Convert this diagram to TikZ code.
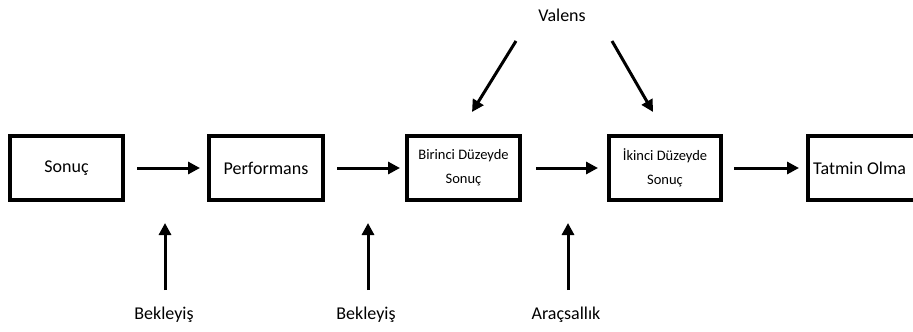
\documentclass[tikz,border=0pt]{standalone}
\usepackage{fontspec}
\setmainfont{Carlito}
\usetikzlibrary{arrows.meta}
\tikzset{
  stage/.style={draw, line width=4pt, minimum height=64pt, inner sep=0pt,
    font=\fontsize{18}{20}\selectfont},
  smallstage/.style={stage, align=center,
    font=\fontsize{14.5}{24}\selectfont},
  lbl/.style={inner sep=2pt, font=\fontsize{18}{20}\selectfont},
  flow/.style={line width=3pt, -{Triangle[length=12pt,width=12pt]}},
}
\begin{document}
\begin{tikzpicture}[x=1pt,y=-1pt]
  \useasboundingbox (0,0) rectangle (913,332);
  \clip (0,0) rectangle (913,332);

  % main chain of stages
  \node[stage, minimum width=113pt] (s1) at (66.5,168) {Sonuç};
  \node[stage, minimum width=114pt] (s2) at (266,168) {Performans};
  \node[smallstage, minimum width=113pt] (s3) at (463.5,168) {Birinci Düzeyde\\Sonuç};
  \node[smallstage, minimum width=112pt] (s4) at (665,168) {İkinci Düzeyde\\Sonuç};
  \node[stage, anchor=west, minimum width=130pt] (s5) at (806,168) {};
  \node[lbl, anchor=west, inner sep=0pt] (s5t) at ([xshift=7pt]s5.west) {Tatmin Olma};

  \draw[flow, shorten <=12pt, shorten >=7pt] (s1) -- (s2);
  \draw[flow, shorten <=12pt, shorten >=5pt] (s2) -- (s3);
  \draw[flow, shorten <=14pt, shorten >=9pt] (s3) -- (s4);
  \draw[flow, shorten <=11pt, shorten >=7pt] (s4) -- (s5.west);

  % influences from below
  \node[lbl] (b1) at (164,315) {Bekleyiş};
  \node[lbl] (b2) at (366,315) {Bekleyiş};
  \node[lbl] (ar) at (566,315) {Araçsallık};
  \coordinate (t1) at (165,223);
  \coordinate (t2) at (368,223);
  \coordinate (t3) at (568,223);
  \coordinate (f1) at (165,290);
  \coordinate (f2) at (368,290);
  \coordinate (f3) at (568,290);
  \draw[flow] (f1) -- (t1);
  \draw[flow] (f2) -- (t2);
  \draw[flow] (f3) -- (t3);

  % valence from above
  \node[lbl] (va) at (562,15) {Valens};
  \coordinate (vl) at (516,41);
  \coordinate (vr) at (612,41);
  \coordinate (tl) at (472,112);
  \coordinate (tr) at (653,112);
  \draw[flow] (vl) -- (tl);
  \draw[flow] (vr) -- (tr);
\end{tikzpicture}
\end{document}
